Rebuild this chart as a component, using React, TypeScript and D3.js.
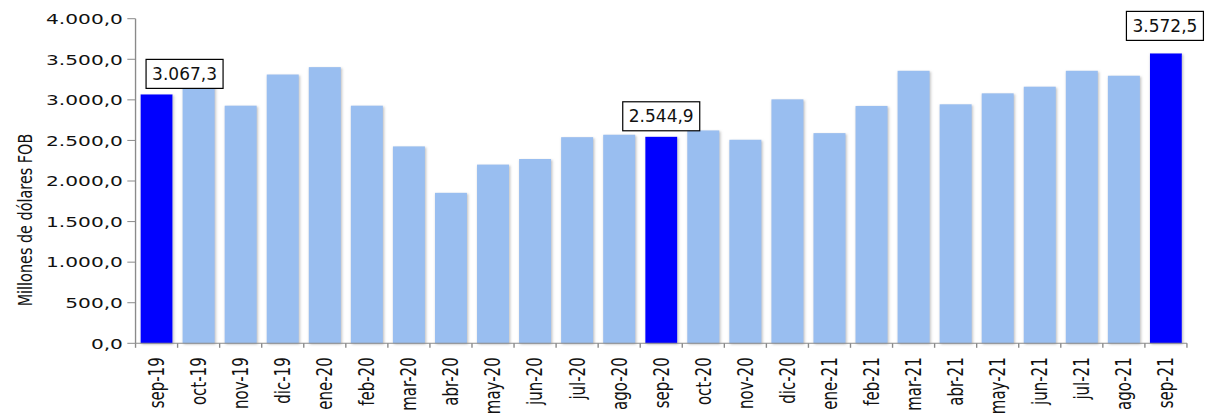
import { useMemo } from "react";
import * as d3 from "d3";

// monthly values, millions of dollars FOB
const categories = [
  "sep-19", "oct-19", "nov-19", "dic-19", "ene-20", "feb-20", "mar-20", "abr-20",
  "may-20", "jun-20", "jul-20", "ago-20", "sep-20", "oct-20", "nov-20", "dic-20",
  "ene-21", "feb-21", "mar-21", "abr-21", "may-21", "jun-21", "jul-21", "ago-21", "sep-21",
];
const values = [
  3067.3, 3170, 2928, 3312, 3403, 2928, 2426, 1854,
  2202, 2271, 2540, 2570, 2544.9, 2623, 2508, 3006,
  2590, 2925, 3358, 2945, 3080, 3162, 3358, 3297, 3572.5,
];
const highlighted = ["sep-19", "sep-20", "sep-21"];
const yTicks = [0, 500, 1000, 1500, 2000, 2500, 3000, 3500, 4000];

// callouts: which month, horizontal shift and gap above the bar (px)
const callouts = [
  { cat: "sep-19", dx: 28, gap: 6 },
  { cat: "sep-20", dx: 0, gap: 6 },
  { cat: "sep-21", dx: -1, gap: 13 },
];

const W = 1206;
const H = 415;
const SX = W / 880; // the original picture is stretched horizontally
const FONT = "'DejaVu Sans', Verdana, sans-serif";
const AXIS = "#8a8a8a";

const fmt = (v: number) =>
  v.toLocaleString("es-ES", { minimumFractionDigits: 1, maximumFractionDigits: 1, useGrouping: "always" } as any);

export default function App() {
  const margin = { left: 98.9, right: 866.1, top: 18.7, bottom: 343.3 };

  const x = useMemo(
    () => d3.scaleBand<string>().domain(categories).range([margin.left, margin.right]).paddingInner(0.24).paddingOuter(0.12),
    []
  );
  const y = useMemo(() => d3.scaleLinear().domain([0, 4000]).range([margin.bottom, margin.top]), []);

  const step = x.step();
  const bw = x.bandwidth();
  const boundaries = categories.map((c) => (x(c) as number) - (step - bw) / 2).concat([margin.right]);

  return (
    <svg width={W} height={H} style={{ position: "absolute", left: 0, top: 0, background: "#fff" }}>
      <defs>
        <filter id="soft" x="-20%" y="-20%" width="140%" height="140%">
          <feGaussianBlur in="SourceAlpha" stdDeviation="1.2" result="b" />
          <feOffset in="b" dx="0.8" dy="0.8" result="o" />
          <feFlood floodColor="#9a9a9a" floodOpacity="0.7" />
          <feComposite in2="o" operator="in" result="s" />
          <feMerge>
            <feMergeNode in="s" />
            <feMergeNode in="SourceGraphic" />
          </feMerge>
        </filter>
      </defs>
      <g transform={`scale(${SX},1)`} fontFamily={FONT}>
        {/* bars */}
        {categories.map((c, i) => (
          <rect
            key={c}
            x={x(c)}
            y={y(values[i])}
            width={bw}
            height={y(0) - y(values[i])}
            fill={highlighted.includes(c) ? "#0000ff" : "#99bef0"}
            filter="url(#soft)"
          />
        ))}

        {/* y axis */}
        <line x1={margin.left} x2={margin.left} y1={margin.top} y2={margin.bottom} stroke={AXIS} strokeWidth={1} />
        {yTicks.map((t) => (
          <g key={t}>
            <line x1={margin.left - 6} x2={margin.left} y1={y(t)} y2={y(t)} stroke={AXIS} />
            <text x={89.7} y={y(t)} dy="0.36em" textAnchor="end" fontSize={14.7} fill="#111">
              {fmt(t)}
            </text>
          </g>
        ))}
        <text
          transform={`translate(23.6,220) rotate(-90)`}
          textAnchor="middle"
          fontSize={14.4}
          fill="#111"
        >
          Millones de dólares FOB
        </text>

        {/* x axis */}
        <line x1={margin.left} x2={margin.right} y1={margin.bottom} y2={margin.bottom} stroke={AXIS} />
        {boundaries.map((b, i) => (
          <line key={i} x1={b} x2={b} y1={margin.bottom} y2={margin.bottom + 4.5} stroke={AXIS} />
        ))}
        {categories.map((c) => (
          <text
            key={c}
            transform={`translate(${(x(c) as number) + bw / 2},${margin.bottom + 14}) rotate(-90)`}
            dy="0.36em"
            textAnchor="end"
            fontSize={15}
            fill="#111"
          >
            {c}
          </text>
        ))}
      </g>

      {/* value callouts, drawn unstretched */}
      {callouts.map((a) => {
        const i = categories.indexOf(a.cat);
        const cx = ((x(a.cat) as number) + bw / 2) * SX + a.dx;
        const bottom = y(values[i]) - a.gap;
        const bwid = 77;
        const bh = 29;
        return (
          <g key={a.cat}>
            <rect x={cx - bwid / 2} y={bottom - bh} width={bwid} height={bh} fill="#fff" stroke="#000" strokeWidth={1.2} />
            <text x={cx} y={bottom - bh / 2} dy="0.36em" textAnchor="middle" fontFamily={FONT} fontSize={17} fill="#111">
              {fmt(values[i])}
            </text>
          </g>
        );
      })}
    </svg>
  );
}
